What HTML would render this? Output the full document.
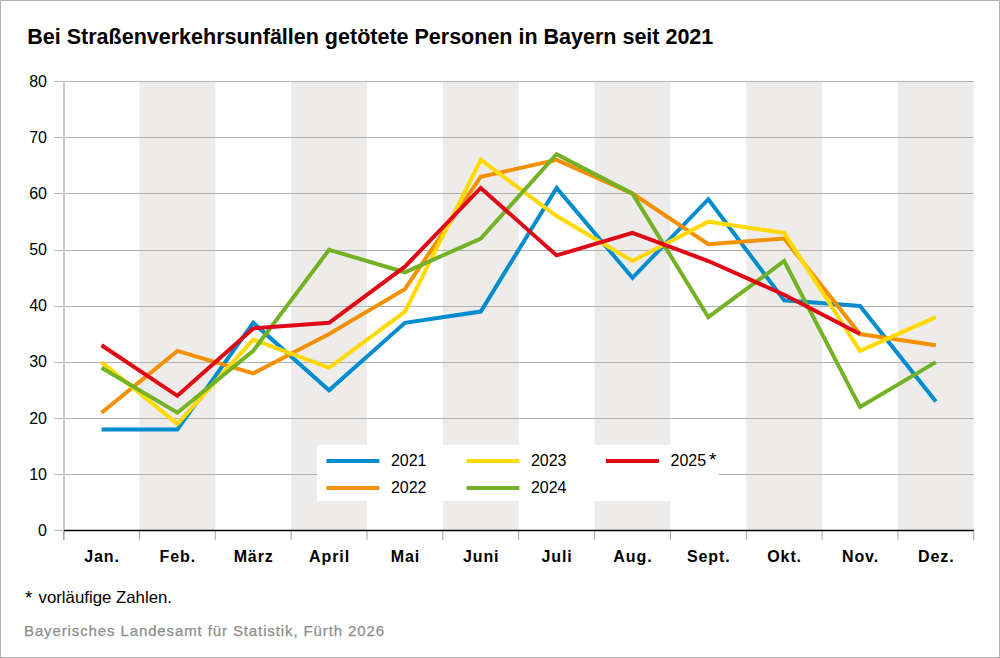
<!DOCTYPE html>
<html><head><meta charset="utf-8"><style>
html,body{margin:0;padding:0;background:#fff;}
body{width:1000px;height:658px;overflow:hidden;position:relative;font-family:"Liberation Sans",sans-serif;}
svg{position:absolute;left:0;top:0;}
.t{font-weight:bold;font-size:22.7px;fill:#000;}
.lg{font-size:16px;fill:#000;}
.yl{font-size:16px;fill:#000;}
.ml{font-size:16px;font-weight:bold;fill:#000;letter-spacing:0.9px;}
.fn{font-size:16.5px;fill:#000;}
.src{font-size:15px;fill:#8e8e8e;stroke:#8e8e8e;stroke-width:0.25px;}
</style></head><body>
<svg width="1000" height="658" viewBox="0 0 1000 658">
<rect x="0.5" y="0.5" width="999" height="657" fill="#fff" stroke="#b2b2b2" stroke-width="1"/>
<text x="27.3" y="43.9" class="t" textLength="686" lengthAdjust="spacingAndGlyphs">Bei Straßenverkehrsunfällen getötete Personen in Bayern seit 2021</text>
<rect x="139.45" y="81.00" width="75.85" height="449.40" fill="#edecea"/>
<rect x="291.15" y="81.00" width="75.85" height="449.40" fill="#edecea"/>
<rect x="442.85" y="81.00" width="75.85" height="449.40" fill="#edecea"/>
<rect x="594.55" y="81.00" width="75.85" height="449.40" fill="#edecea"/>
<rect x="746.25" y="81.00" width="75.85" height="449.40" fill="#edecea"/>
<rect x="897.95" y="81.00" width="75.85" height="449.40" fill="#edecea"/>
<line x1="54" y1="474.50" x2="973.8" y2="474.50" stroke="#b0b0b0" stroke-width="1"/>
<line x1="54" y1="418.50" x2="973.8" y2="418.50" stroke="#b0b0b0" stroke-width="1"/>
<line x1="54" y1="362.50" x2="973.8" y2="362.50" stroke="#b0b0b0" stroke-width="1"/>
<line x1="54" y1="306.50" x2="973.8" y2="306.50" stroke="#b0b0b0" stroke-width="1"/>
<line x1="54" y1="250.50" x2="973.8" y2="250.50" stroke="#b0b0b0" stroke-width="1"/>
<line x1="54" y1="193.50" x2="973.8" y2="193.50" stroke="#b0b0b0" stroke-width="1"/>
<line x1="54" y1="137.50" x2="973.8" y2="137.50" stroke="#b0b0b0" stroke-width="1"/>
<line x1="54" y1="81.50" x2="973.8" y2="81.50" stroke="#b0b0b0" stroke-width="1"/>
<line x1="54" y1="530.40" x2="64" y2="530.40" stroke="#b4b4b4" stroke-width="1"/>
<line x1="64" y1="81.00" x2="64" y2="540" stroke="#cdcdcd" stroke-width="2"/>
<line x1="63.60" y1="530.40" x2="63.60" y2="540" stroke="#a4a4a4" stroke-width="1"/>
<line x1="139.45" y1="530.40" x2="139.45" y2="540" stroke="#a4a4a4" stroke-width="1"/>
<line x1="215.30" y1="530.40" x2="215.30" y2="540" stroke="#a4a4a4" stroke-width="1"/>
<line x1="291.15" y1="530.40" x2="291.15" y2="540" stroke="#a4a4a4" stroke-width="1"/>
<line x1="367.00" y1="530.40" x2="367.00" y2="540" stroke="#a4a4a4" stroke-width="1"/>
<line x1="442.85" y1="530.40" x2="442.85" y2="540" stroke="#a4a4a4" stroke-width="1"/>
<line x1="518.70" y1="530.40" x2="518.70" y2="540" stroke="#a4a4a4" stroke-width="1"/>
<line x1="594.55" y1="530.40" x2="594.55" y2="540" stroke="#a4a4a4" stroke-width="1"/>
<line x1="670.40" y1="530.40" x2="670.40" y2="540" stroke="#a4a4a4" stroke-width="1"/>
<line x1="746.25" y1="530.40" x2="746.25" y2="540" stroke="#a4a4a4" stroke-width="1"/>
<line x1="822.10" y1="530.40" x2="822.10" y2="540" stroke="#a4a4a4" stroke-width="1"/>
<line x1="897.95" y1="530.40" x2="897.95" y2="540" stroke="#a4a4a4" stroke-width="1"/>
<line x1="973.80" y1="530.40" x2="973.80" y2="540" stroke="#a4a4a4" stroke-width="1"/>
<line x1="64" y1="530.40" x2="973.8" y2="530.40" stroke="#000" stroke-width="1.5"/>
<rect x="317" y="445" width="402" height="56" fill="#fff"/>
<polyline points="101.53,429.53 177.38,429.53 253.22,322.80 329.07,390.21 404.93,322.80 480.77,311.57 556.62,187.98 632.48,277.86 708.32,199.22 784.17,300.33 860.02,305.95 935.88,401.45" fill="none" stroke="#008ccf" stroke-width="4" stroke-linejoin="miter" stroke-miterlimit="10"/>
<polyline points="101.53,412.68 177.38,350.89 253.22,373.36 329.07,334.04 404.93,289.10 480.77,176.75 556.62,159.89 632.48,193.60 708.32,244.16 784.17,238.54 860.02,334.04 935.88,345.27" fill="none" stroke="#f39000" stroke-width="4" stroke-linejoin="miter" stroke-miterlimit="10"/>
<polyline points="101.53,362.12 177.38,423.92 253.22,339.65 329.07,367.74 404.93,311.57 480.77,159.89 556.62,216.07 632.48,261.01 708.32,221.69 784.17,232.92 860.02,350.89 935.88,317.19" fill="none" stroke="#ffd900" stroke-width="4" stroke-linejoin="miter" stroke-miterlimit="10"/>
<polyline points="101.53,367.74 177.38,412.68 253.22,350.89 329.07,249.77 404.93,272.25 480.77,238.54 556.62,154.28 632.48,193.60 708.32,317.19 784.17,261.01 860.02,407.06 935.88,362.12" fill="none" stroke="#72b224" stroke-width="4" stroke-linejoin="miter" stroke-miterlimit="10"/>
<polyline points="101.53,345.27 177.38,395.83 253.22,328.42 329.07,322.80 404.93,266.63 480.77,187.98 556.62,255.39 632.48,232.92 708.32,261.01 784.17,294.71 860.02,334.04" fill="none" stroke="#e10815" stroke-width="4" stroke-linejoin="miter" stroke-miterlimit="10"/>
<line x1="326.4" y1="461" x2="379.4" y2="461" stroke="#008ccf" stroke-width="4"/>
<line x1="326.4" y1="488" x2="379.4" y2="488" stroke="#f39000" stroke-width="4"/>
<line x1="466.4" y1="461" x2="519.4" y2="461" stroke="#ffd900" stroke-width="4"/>
<line x1="466.4" y1="488" x2="519.4" y2="488" stroke="#72b224" stroke-width="4"/>
<line x1="606" y1="461" x2="659" y2="461" stroke="#e10815" stroke-width="4"/>
<text x="390.9" y="465.5" class="lg">2021</text>
<text x="390.9" y="492.5" class="lg">2022</text>
<text x="530.9" y="465.5" class="lg">2023</text>
<text x="530.9" y="492.5" class="lg">2024</text>
<text x="670.5" y="465.5" class="lg">2025<tspan dx="2.8" style="font-size:19px" dy="0.6">*</tspan></text>
<text x="47" y="535.90" class="yl" text-anchor="end">0</text>
<text x="47" y="479.72" class="yl" text-anchor="end">10</text>
<text x="47" y="423.55" class="yl" text-anchor="end">20</text>
<text x="47" y="367.38" class="yl" text-anchor="end">30</text>
<text x="47" y="311.20" class="yl" text-anchor="end">40</text>
<text x="47" y="255.02" class="yl" text-anchor="end">50</text>
<text x="47" y="198.85" class="yl" text-anchor="end">60</text>
<text x="47" y="142.68" class="yl" text-anchor="end">70</text>
<text x="47" y="86.50" class="yl" text-anchor="end">80</text>
<text x="101.98" y="562.2" class="ml" text-anchor="middle">Jan.</text>
<text x="177.82" y="562.2" class="ml" text-anchor="middle">Feb.</text>
<text x="253.67" y="562.2" class="ml" text-anchor="middle">März</text>
<text x="329.52" y="562.2" class="ml" text-anchor="middle">April</text>
<text x="405.38" y="562.2" class="ml" text-anchor="middle">Mai</text>
<text x="481.22" y="562.2" class="ml" text-anchor="middle">Juni</text>
<text x="557.08" y="562.2" class="ml" text-anchor="middle">Juli</text>
<text x="632.93" y="562.2" class="ml" text-anchor="middle">Aug.</text>
<text x="708.77" y="562.2" class="ml" text-anchor="middle">Sept.</text>
<text x="784.62" y="562.2" class="ml" text-anchor="middle">Okt.</text>
<text x="860.48" y="562.2" class="ml" text-anchor="middle">Nov.</text>
<text x="936.33" y="562.2" class="ml" text-anchor="middle">Dez.</text>
<text x="25.1" y="604" class="fn" style="font-size:19px">*</text><text x="38.5" y="602.8" class="fn" textLength="133.5" lengthAdjust="spacingAndGlyphs">vorläufige Zahlen.</text>
<text x="24" y="635.7" class="src" textLength="360">Bayerisches Landesamt für Statistik, Fürth 2026</text>
</svg>
</body></html>
